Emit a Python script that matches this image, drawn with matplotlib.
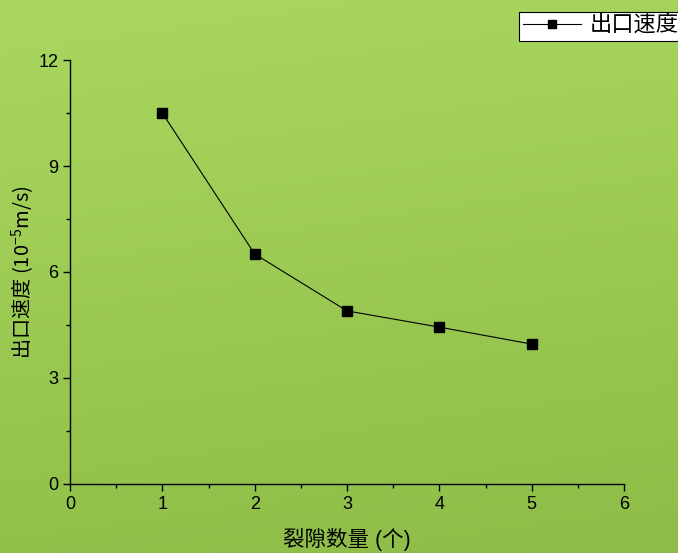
import numpy as np
import matplotlib
matplotlib.use('Agg')
import matplotlib.pyplot as plt
from matplotlib.ticker import MultipleLocator

plt.rcParams['font.family'] = ['Liberation Sans', 'Noto Sans CJK SC', 'DejaVu Sans']
plt.rcParams['mathtext.fontset'] = 'custom'
plt.rcParams['mathtext.rm'] = 'Liberation Sans'
plt.rcParams['axes.unicode_minus'] = False

# 数据
crack_num = [1, 2, 3, 4, 5]
out_speed = [10.5, 6.51, 4.90, 4.44, 3.96]

fig = plt.figure(figsize=(6.78, 5.53), dpi=100)

# 背景渐变（上浅下深）
bg = fig.add_axes([0, 0, 1, 1], zorder=-10)
h, w = 200, 200
yy, xx = np.mgrid[0:1:h * 1j, 0:1:w * 1j]
top = np.array([170, 215, 95]) / 255
bot = np.array([141, 189, 72]) / 255
t = np.clip(yy * 0.85 + xx * 0.15, 0, 1)[..., None]
img = top * (1 - t) + bot * t
bg.imshow(img, aspect='auto', extent=[0, 1, 0, 1], origin='upper')
bg.axis('off')

ax = fig.add_axes([70 / 678, 69 / 553, 554 / 678, 424 / 553])
ax.patch.set_alpha(0)
ax.plot(crack_num, out_speed, '-s', color='black', lw=0.8, ms=6.5, label='出口速度')

ax.set_xlim(0, 6)
ax.set_ylim(0, 12)
ax.xaxis.set_major_locator(MultipleLocator(1))
ax.xaxis.set_minor_locator(MultipleLocator(0.5))
ax.yaxis.set_major_locator(MultipleLocator(3))
ax.yaxis.set_minor_locator(MultipleLocator(1.5))
ax.spines['top'].set_visible(False)
ax.spines['right'].set_visible(False)
for s in ['left', 'bottom']:
    ax.spines[s].set_linewidth(1.0)
ax.tick_params(which='major', direction='out', length=5, width=1, labelsize=13)
ax.tick_params(which='minor', direction='out', length=3, width=1)

ax.set_xlabel('裂隙数量 (个)', fontsize=15.5, labelpad=11)
ax.set_ylabel(r'出口速度 (10$^{\mathregular{-5}}$m/s)', fontsize=14.5, labelpad=1,
              family='Noto Sans CJK SC')

leg = ax.legend(loc='upper left', bbox_to_anchor=(519 / 678, 1 - 12 / 553),
                bbox_transform=fig.transFigure, fontsize=16, fancybox=False,
                frameon=True, borderpad=0.17, handlelength=2.6, handletextpad=0.4,
                borderaxespad=0, markerscale=0.8)
leg.get_frame().set_edgecolor('black')
leg.get_frame().set_linewidth(0.8)
leg.get_frame().set_facecolor('white')
leg.get_frame().set_alpha(1)

fig.savefig('out.png', dpi=100)
